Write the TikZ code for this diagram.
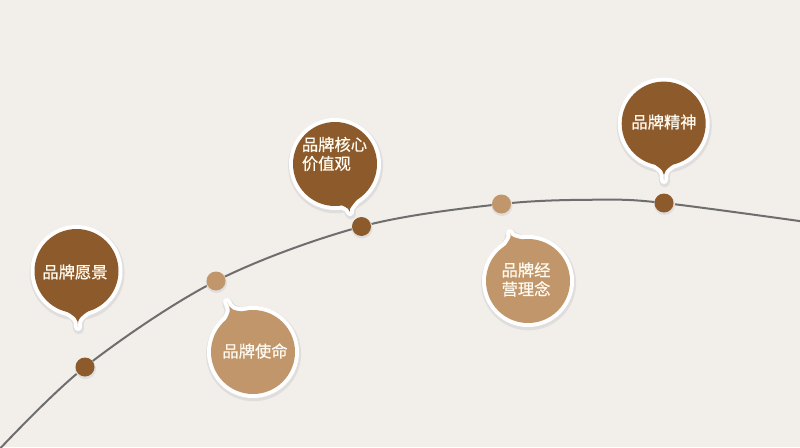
\documentclass[tikz,border=0pt]{standalone}
\usepackage{fontspec}
\usetikzlibrary{calc}
\newfontfamily\cjkfont[FakeBold=0.6]{Noto Sans CJK SC}
\definecolor{bgcol}{RGB}{242,239,234}
\definecolor{darkbrown}{RGB}{141,90,44}
\definecolor{tanbrown}{RGB}{192,150,106}
\definecolor{linegray}{RGB}{110,110,110}
\definecolor{textcol}{RGB}{255,250,240}
\definecolor{shadowcol}{RGB}{224,222,221}
\newcommand\speechbubble[6]{%
  \fill[shadowcol] ([shift={(0.6,1.8)}]#1) circle[radius=47.5];
  \filldraw[shadowcol, line width=11pt, line join=round] ([shift={(#2:38)}]#1) .. controls ($(#1)!47pt!(#4)$) .. ([shift={(0.6,1.8)}]#4) .. controls ($(#1)!47pt!(#4)$) .. ([shift={(#3:38)}]#1) -- cycle;
  \fill[white] (#1) circle[radius=46];
  \filldraw[white, line width=8pt, line join=round] ([shift={(#2:40)}]#1) .. controls ($(#1)!47pt!(#4)$) .. (#4) .. controls ($(#1)!47pt!(#4)$) .. ([shift={(#3:40)}]#1) -- cycle;
  \node[bubblecore, fill=#5] (#6) at (#1) {};
  \fill[#5] ([shift={(#2:40)}]#1) .. controls ($(#1)!47pt!(#4)$) .. (#4) .. controls ($(#1)!47pt!(#4)$) .. ([shift={(#3:40)}]#1) -- cycle;
}
\begin{document}
\begin{tikzpicture}[x=1pt,y=-1pt,
  curveline/.style={draw=linegray, line width=2pt},
  dotnode/.style={circle, minimum size=19pt, inner sep=0pt},
  bubblecore/.style={circle, minimum size=84pt, inner sep=0pt},
  btext/.style={font=\cjkfont\fontsize{16.3}{19}\selectfont, text=textcol, inner sep=0pt}]
\useasboundingbox (0,0) rectangle (800,447);
\fill[bgcol] (0,0) rectangle (800,447);
% points on the curve
\coordinate (p1) at (85,367);
\coordinate (p2) at (216,281);
\coordinate (p3) at (361.5,226.5);
\coordinate (p4) at (501.5,204);
\coordinate (p5) at (664,203);
\coordinate (cs) at (-6,455);
\coordinate (cm) at (600,199.7);
\coordinate (ce) at (810,222.5);
\draw[curveline] plot[smooth, tension=0.55] coordinates {(cs) (p1) (p2) (p3) (p4) (cm) (p5) (ce)};
% dots
\foreach \p in {p1, p2, p3, p4, p5}{
  \fill[shadowcol] ([shift={(0.5,1.5)}]\p) circle[radius=10.5];
}
\node[dotnode, fill=darkbrown] (d1) at (p1) {};
\node[dotnode, fill=tanbrown] (d2) at (p2) {};
\node[dotnode, fill=darkbrown] (d3) at (p3) {};
\node[dotnode, fill=tanbrown] (d4) at (p4) {};
\node[dotnode, fill=darkbrown] (d5) at (p5) {};
% bubble centres and tips
\coordinate (c1) at (76.5,271);   \coordinate (k1) at (78,327);
\coordinate (c2) at (253,352);    \coordinate (k2) at (227,302);
\coordinate (c3) at (335,164);    \coordinate (k3) at (350,212);
\coordinate (c4) at (528,281);    \coordinate (k4) at (510,233);
\coordinate (c5) at (663.7,123.6);\coordinate (k5) at (664,180);
\speechbubble{c1}{52}{115}{k1}{darkbrown}{b1}
\speechbubble{c2}{222}{264}{k2}{tanbrown}{b2}
\speechbubble{c3}{38}{84}{k3}{darkbrown}{b3}
\speechbubble{c4}{230}{272}{k4}{tanbrown}{b4}
\speechbubble{c5}{68}{111}{k5}{darkbrown}{b5}
% texts
\node[btext] (t1) at (75,272) {品牌愿景};
\node[btext] (t2) at (255,351) {品牌使命};
\node[btext, align=left] (t3) at (334.5,154) {品牌核心\\价值观};
\node[btext, align=center] (t4) at (526,279.5) {品牌经\\营理念};
\node[btext] (t5) at (664,122) {品牌精神};
\end{tikzpicture}
\end{document}
